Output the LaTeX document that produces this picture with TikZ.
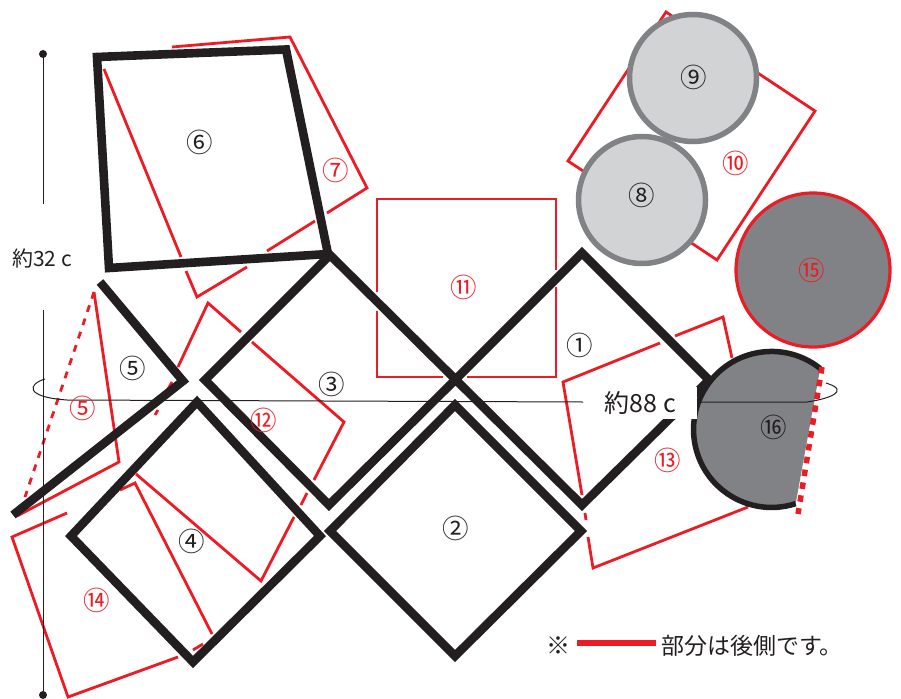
\documentclass[tikz,border=0pt]{standalone}
\usepackage{fontspec}
\setmainfont{Noto Sans CJK JP}
\definecolor{inkblack}{HTML}{231F20}
\definecolor{foldred}{HTML}{ED1C24}
\definecolor{lightdisc}{HTML}{D1D3D4}
\definecolor{darkdisc}{HTML}{808285}
\tikzset{
  foldline/.style={draw=inkblack, line width=8.6pt, miter limit=10},
  backline/.style={draw=foldred, line width=2.8pt, miter limit=10},
  thinline/.style={draw=inkblack, line width=1pt},
  num/.style={inner sep=0pt, font=\fontsize{26.5}{26}\selectfont, text=inkblack},
  rednum/.style={num, text=foldred},
  lenlabel/.style={inner sep=0pt, text=inkblack, font=\fontsize{21}{21}\selectfont}
}
\begin{document}
\begin{tikzpicture}[x=1pt, y=-1pt]
\useasboundingbox (0,0) rectangle (901,698);

% Back side parts
\draw[backline] (172,47) -- (290,37) -- (367,188) -- (327,213);
\draw[backline] (315,221) -- (267,251);
\draw[backline] (247,267) -- (197,297) -- (186,271);
\draw[backline] (181,257) -- (104,69);
\draw[backline] (666,12) -- (815,111) -- (717,260) -- (568,161) -- cycle;
\draw[backline] (377,311) -- (377,377) -- (443,377);
\draw[backline] (467,377) -- (556,377) -- (556,287);
\draw[backline] (556,270) -- (556,199) -- (377,199) -- (377,292);
\draw[backline] (178,367) -- (208,303) -- (241,332);
\draw[backline] (252,342) -- (344,422) -- (314,480);
\draw[backline] (307,493) -- (301,505);
\draw[backline] (294,517) -- (261,581) -- (136,474);
\draw[backline] (172,382) -- (163,398);
\draw[backline] (158,410) -- (155,415);
\draw[backline] (660,343) -- (563,382) -- (582,495);
\draw[backline] (675,336) -- (723,317) -- (732,358);
\draw[backline] (585,513) -- (586,520);
\draw[backline] (588,537) -- (593,568) -- (748,507);
\draw[backline] (67,513) -- (12,537) -- (68,697) -- (178,657);
\draw[backline] (193,650) -- (203,644);
\draw[backline] (120,490) -- (135,483) -- (212,634);
\draw[backline] (94,292) -- (119,462) -- (17,516);
\draw[backline, dash pattern=on 7pt off 7pt] (94,292) -- (25,497);

% Back circles
\draw[fill=lightdisc, draw=darkdisc, line width=5.5pt] (693,78) circle (63.5);
\draw[fill=lightdisc, draw=darkdisc, line width=5.5pt] (642,200) circle (63.5);
\draw[fill=darkdisc, draw=foldred, line width=3.2pt] (813,270) circle (77);

% Front side parts
\draw[foldline] (97,57) -- (286,49.5) -- (328,254) -- (109,268) -- cycle;
\draw[foldline] (455,380) -- (582,253) -- (709,380) -- (582,505) -- (330,255) -- (205,380) -- (329,505) -- cycle;
\draw[foldline] (455,405) -- (581,531) -- (455,656) -- (330,531) -- cycle;
\draw[foldline] (197,402) -- (320,536) -- (193,662) -- (71,536) -- cycle;
\draw[foldline] (100,282) -- (183,381) -- (13,515);

% Cut circle
\fill[darkdisc] (820.2,368.5) arc (-51.4:-288:78) -- cycle;
\draw[draw=inkblack, line width=5.5pt] (820.2,368.5) arc (-51.4:-288:78);
\draw[draw=foldred, line width=5.5pt, dash pattern=on 6.5pt off 6.5pt] (822,367) -- (798,514);

% Size lines
\draw[thinline] (43,54) -- (43,204);
\draw[thinline] (43,310) -- (43,695);
\fill[inkblack] (43,54) circle (4);
\fill[inkblack] (43,695) circle (4);
\draw[thinline] (45,379) .. controls (28,384) and (24,397) .. (67,400) -- (583,402);
\draw[thinline] (697,402) -- (807,402) .. controls (828,399) and (852,391) .. (826,383);

% Labels
\node[lenlabel] (lenA) at (42,259) {約32 c};
\node[lenlabel, fill=white, minimum width=113pt, minimum height=32pt, font=\fontsize{25}{25}\selectfont] (lenB) at (640.5,403) {約88 c};
\node[num] (n1) at (580,345) {①};
\node[num] (n2) at (456,528) {②};
\node[num] (n3) at (332,384) {③};
\node[num] (n4) at (192,541) {④};
\node[num] (n5) at (133,368) {⑤};
\node[num] (n6) at (200,142) {⑥};
\node[num] (n8) at (642,195) {⑧};
\node[num] (n9) at (694,77) {⑨};
\node[num] (n16) at (774,427) {⑯};
\node[rednum] (r5) at (83,408) {⑤};
\node[rednum] (r7) at (336,170) {⑦};
\node[rednum] (r10) at (736,163) {⑩};
\node[rednum] (r11) at (464,287) {⑪};
\node[rednum] (r12) at (264,420) {⑫};
\node[rednum] (r13) at (668,460) {⑬};
\node[rednum] (r14) at (97,600) {⑭};
\node[rednum] (r15) at (812,270) {⑮};

% Note
\node[lenlabel, font=\fontsize{24}{24}\selectfont] (mark) at (558,646) {※};
\draw[draw=foldred, line width=5.5pt] (577,643) -- (656,643);
\node[lenlabel, anchor=west, font=\fontsize{23}{24}\selectfont] (note) at (661,646) {部分は後側です。};
\end{tikzpicture}
\end{document}
